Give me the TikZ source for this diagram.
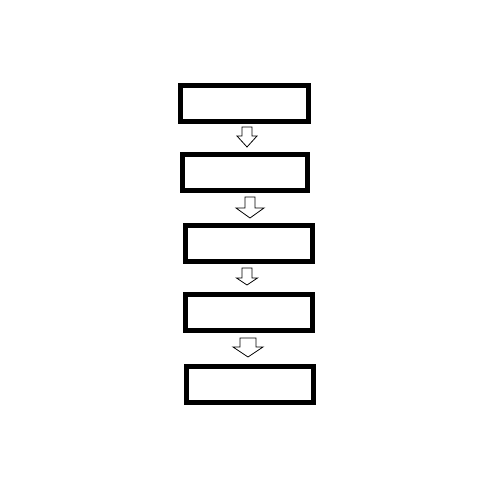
\documentclass[tikz,border=0pt]{standalone}
\begin{document}
\begin{tikzpicture}[x=1pt,y=-1pt,
  flowbox/.style={draw=black,line width=5pt,fill=white,rectangle,inner sep=0pt},
  blockarr/.style={draw=black,line width=0.8pt,fill=white,line join=miter}]
\useasboundingbox[fill=white] (0,0) rectangle (500,500);
\newcommand\blockarrow[6]{% cx, halfshaft, halfhead, top, headtop, tip
  \draw[blockarr] ({#1-#2},#4) -- ({#1+#2},#4) -- ({#1+#2},#5) -- ({#1+#3},#5)
    -- (#1,#6) -- ({#1-#3},#5) -- ({#1-#2},#5) -- cycle;}
\node[flowbox,minimum width=128pt,minimum height=36pt] (b1) at (244.5,103.5) {};
\node[flowbox,minimum width=125pt,minimum height=36pt] (b2) at (245,172.5) {};
\node[flowbox,minimum width=127pt,minimum height=36pt] (b3) at (249,243.5) {};
\node[flowbox,minimum width=127pt,minimum height=36pt] (b4) at (249,312.5) {};
\node[flowbox,minimum width=127pt,minimum height=36pt] (b5) at (250,384.5) {};
\blockarrow{247}{5}{10}{127}{136}{147}
\blockarrow{250}{5}{14}{197}{208}{218}
\blockarrow{247}{5}{10.5}{268}{278}{285}
\blockarrow{248}{8}{15}{338}{347}{357}
\end{tikzpicture}
\end{document}
